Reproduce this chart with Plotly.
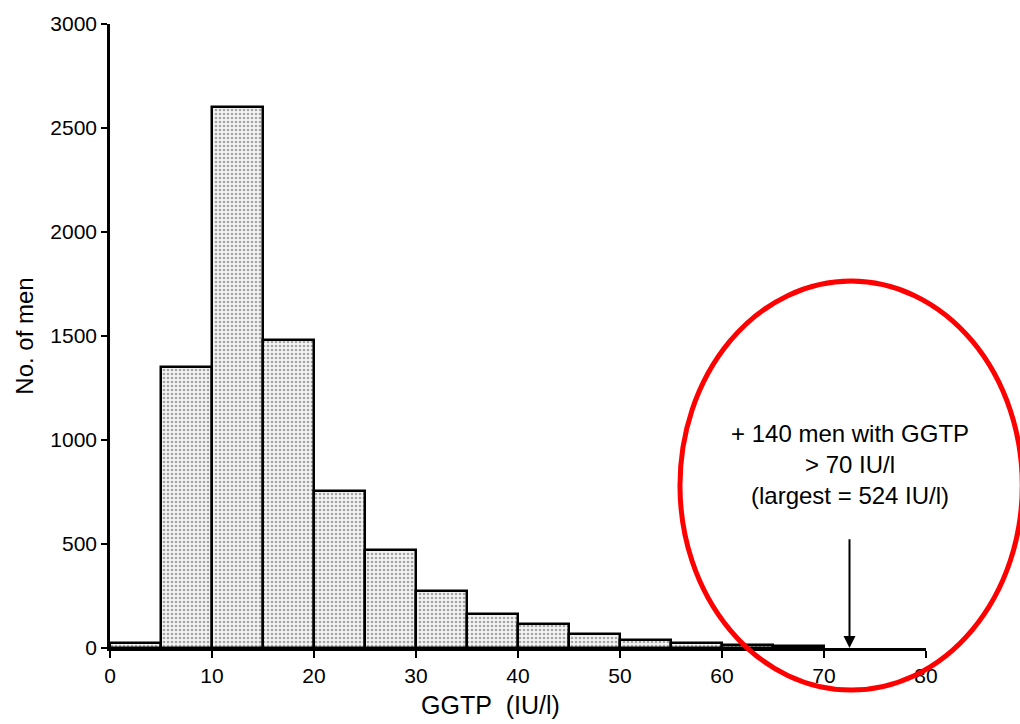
import plotly.graph_objects as go

# Histogram of GGTP (IU/l) in men, 5 IU/l bins
bin_left = [0, 5, 10, 15, 20, 25, 30, 35, 40, 45, 50, 55, 60, 65]
counts = [25, 1350, 2600, 1480, 755, 470, 275, 165, 115, 65, 40, 25, 15, 10]
bin_width = 5

x_ticks = [0, 10, 20, 30, 40, 50, 60, 70, 80]
y_ticks = [0, 500, 1000, 1500, 2000, 2500, 3000]

note_lines = ["+ 140 men with GGTP", "> 70 IU/l", "(largest = 524 IU/l)"]
arrow_x = 72.5

TICK_FONT = "Liberation Sans, Arial, sans-serif"
TEXT_FONT = "Liberation Sans, Arial, sans-serif"

fig = go.Figure()
fig.add_trace(go.Bar(
    x=bin_left, y=counts, width=bin_width, offset=0,
    marker=dict(
        color="#f2f2f2",
        line=dict(color="black", width=2.5),
        pattern=dict(shape=".", fgcolor="#555555", bgcolor="#f4f4f4", size=4, solidity=0.35),
    ),
    showlegend=False,
))

fig.update_layout(
    width=1020, height=724,
    margin=dict(l=110, r=94, t=24, b=76),
    paper_bgcolor="white", plot_bgcolor="white",
    bargap=0,
    font=dict(family=TEXT_FONT, color="black"),
    xaxis=dict(
        range=[0, 80], tickvals=x_ticks, ticktext=[str(v) for v in x_ticks],
        showgrid=False, zeroline=False, showline=True, linecolor="black", linewidth=2.5,
        ticks="outside", ticklen=7, tickwidth=2, tickcolor="black",
        tickfont=dict(family=TICK_FONT, size=21, color="black"),
    ),
    yaxis=dict(
        range=[0, 3000], tickvals=y_ticks, ticktext=[str(v) for v in y_ticks],
        showgrid=False, zeroline=False, showline=True, linecolor="black", linewidth=2.5,
        ticks="outside", ticklen=6, tickwidth=2, tickcolor="black",
        tickfont=dict(family=TICK_FONT, size=21, color="black"),
        title=dict(text="No. of men", font=dict(family=TEXT_FONT, size=24), standoff=10),
    ),
    annotations=[
        dict(x=37.3, y=-0.092, xref="x", yref="paper", text="GGTP\u00a0\u00a0(IU/l)",
             showarrow=False, font=dict(family=TEXT_FONT, size=25), yanchor="middle"),
        dict(x=arrow_x, y=880, xref="x", yref="y", text="<br>".join(note_lines),
             showarrow=False, font=dict(family=TEXT_FONT, size=24), yanchor="middle", align="center"),
        dict(x=arrow_x, y=0, ax=arrow_x, ay=530, xref="x", yref="y", axref="x", ayref="y",
             text="", showarrow=True, arrowhead=2, arrowsize=1.2, arrowwidth=2, arrowcolor="black"),
    ],
    shapes=[
        dict(type="circle", xref="paper", yref="paper",
             x0=0.6985, x1=1.118, y0=-0.0673, y1=0.588,
             line=dict(color="red", width=5), layer="above"),
    ],
)

fig.write_html("out.html")
